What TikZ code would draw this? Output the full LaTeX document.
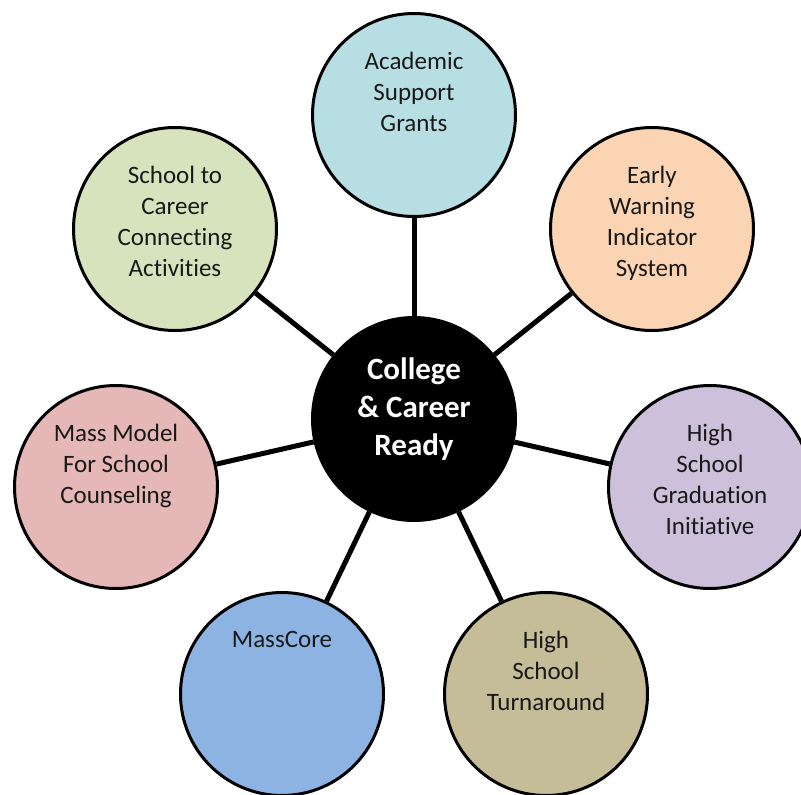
\documentclass[tikz,border=0pt]{standalone}
\usepackage{fontspec}
\setmainfont{Carlito}[Ligatures=NoCommon]
\definecolor{acadfill}{HTML}{B7DEE2}
\definecolor{earlyfill}{HTML}{FBD4B4}
\definecolor{gradfill}{HTML}{CCC0DA}
\definecolor{turnfill}{HTML}{C4BD97}
\definecolor{corefill}{HTML}{8DB3E2}
\definecolor{modelfill}{HTML}{E5B8B7}
\definecolor{careerfill}{HTML}{D6E3BC}
\begin{document}
\begin{tikzpicture}[x=0.75pt, y=-0.75pt,
    bubble/.style={circle, draw=black, line width=2.25pt, minimum size=152.25pt, inner sep=0pt},
    bubbletext/.style={anchor=north, align=center, inner sep=0pt, text=black!90,
        font=\fontsize{18.75}{23.25}\selectfont},
    link/.style={line width=3.75pt}]
    \useasboundingbox (0,0) rectangle (801,794);

    % 中心圆
    \node[bubble, fill=black] (hub) at (414,419) {};
    \node[align=center, inner sep=0pt, text=white, font=\bfseries\fontsize{23.25}{28.5}\selectfont]
        (hubtext) at (414,409) {College\\\& Career\\Ready};

    % 外圈
    \node[bubble, fill=acadfill] (acad) at (414,115) {};
    \node[bubble, fill=earlyfill] (early) at (652,229) {};
    \node[bubble, fill=gradfill] (grad) at (710,487) {};
    \node[bubble, fill=turnfill] (turn) at (546,694) {};
    \node[bubble, fill=corefill] (core) at (282,694) {};
    \node[bubble, fill=modelfill] (model) at (116,487) {};
    \node[bubble, fill=careerfill] (career) at (175,229) {};

    % 连线
    \draw[link] (hub) -- (acad);
    \draw[link] (hub) -- (early);
    \draw[link] (hub) -- (grad);
    \draw[link] (hub) -- (turn);
    \draw[link] (hub) -- (core);
    \draw[link] (hub) -- (model);
    \draw[link] (hub) -- (career);

    % 文字
    \node[bubbletext] (acadtext) at (414,51.5) {Academic\\Support\\Grants};
    \node[bubbletext] (earlytext) at (652,165.5) {Early\\Warning\\Indicator\\System};
    \node[bubbletext] (gradtext) at (710,423.5) {High\\School\\Graduation\\Initiative};
    \node[bubbletext] (turntext) at (546,630.5) {High\\School\\Turnaround};
    \node[bubbletext] (coretext) at (282,630.5) {MassCore};
    \node[bubbletext] (modeltext) at (116,423.5) {Mass Model\\For School\\Counseling};
    \node[bubbletext] (careertext) at (175,165.5) {School to\\Career\\Connecting\\Activities};
\end{tikzpicture}
\end{document}
